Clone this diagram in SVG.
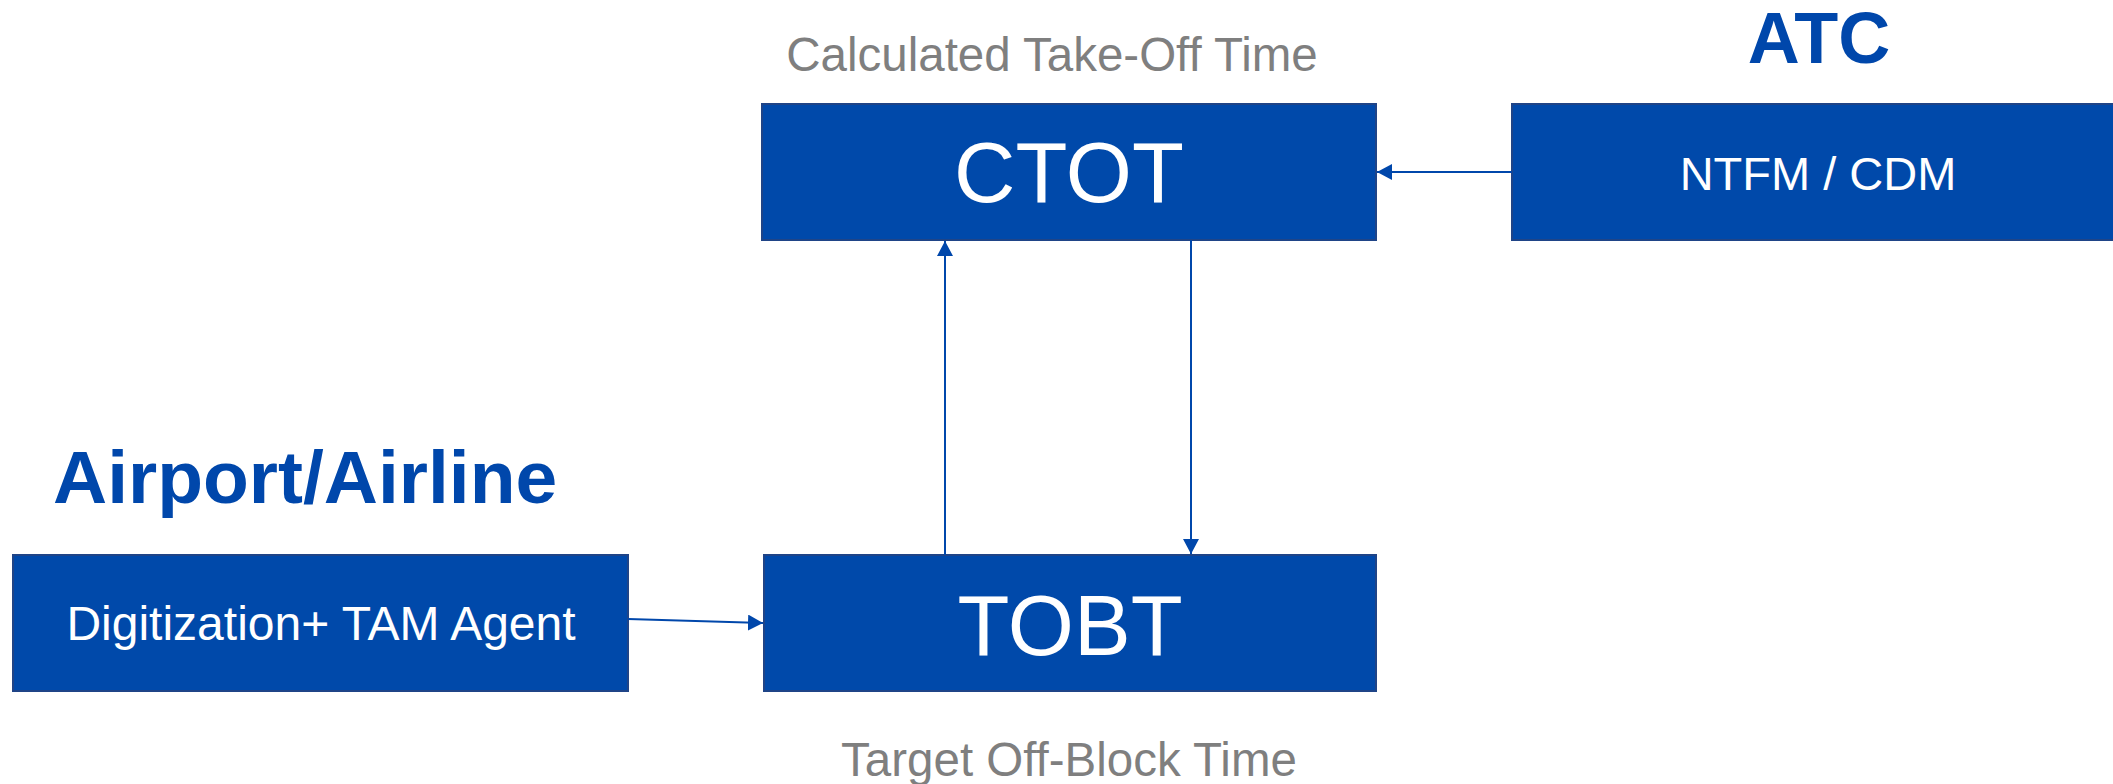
<svg xmlns="http://www.w3.org/2000/svg" width="2113" height="784" viewBox="0 0 2113 784">
<style>
.box{fill:#0049AA;stroke:#1F4487;stroke-width:2}
.wt{fill:#FFFFFF;font-family:"Liberation Sans",Arial,sans-serif;text-anchor:middle}
.gt{fill:#7F7F7F;font-family:"Liberation Sans",Arial,sans-serif;font-size:47.5px;text-anchor:middle}
.bt{fill:#0047AB;font-family:"Liberation Sans",Arial,sans-serif;font-weight:bold}
.con{stroke:#0047AB;stroke-width:2;fill:none}
</style>
<defs>
<marker id="arr" markerUnits="userSpaceOnUse" markerWidth="16" markerHeight="16" refX="15" refY="8" orient="auto">
<path d="M0,0 L15,8 L0,16 Z" fill="#0047AB"/>
</marker>
</defs>
<rect width="2113" height="784" fill="#FFFFFF"/>
<text class="gt" x="1052" y="71">Calculated Take-Off Time</text>
<text class="bt" x="1819" y="63" font-size="72" text-anchor="middle">ATC</text>
<text class="bt" x="53" y="503" font-size="75">Airport/Airline</text>
<text class="gt" x="1069" y="776">Target Off-Block Time</text>
<g id="ctot">
<rect class="box" x="762" y="104" width="614" height="136"/>
<text class="wt" x="1069" y="202" font-size="85">CTOT</text>
</g>
<g id="ntfm">
<rect class="box" x="1512" y="104" width="640" height="136"/>
<text class="wt" x="1818" y="190" font-size="47">NTFM / CDM</text>
</g>
<g id="digitization">
<rect class="box" x="13" y="555" width="615" height="136"/>
<text class="wt" x="321" y="640" font-size="48">Digitization+ TAM Agent</text>
</g>
<g id="tobt">
<rect class="box" x="764" y="555" width="612" height="136"/>
<text class="wt" x="1070" y="655" font-size="85">TOBT</text>
</g>
<g id="connectors">
<line class="con" x1="1512" y1="172" x2="1377" y2="172" marker-end="url(#arr)"/>
<line class="con" x1="945" y1="555" x2="945" y2="241" marker-end="url(#arr)"/>
<line class="con" x1="1191" y1="240" x2="1191" y2="554" marker-end="url(#arr)"/>
<line class="con" x1="628" y1="619" x2="763" y2="623" marker-end="url(#arr)"/>
</g>
</svg>
